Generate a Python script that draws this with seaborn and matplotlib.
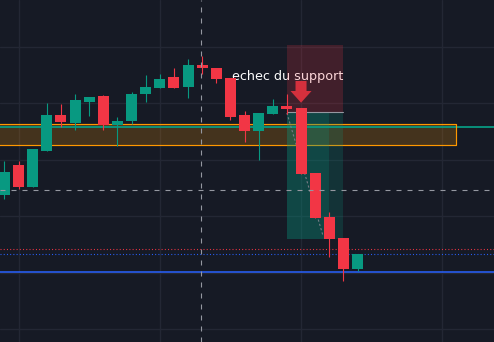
import numpy as np
import pandas as pd
import matplotlib
matplotlib.use("Agg")
import matplotlib.pyplot as plt
import seaborn as sns

# ---- data (prices) ----
opens  = [113.8, 119.1, 115.2, 121.6, 127.9, 126.5, 130.2, 131.3, 126.2, 126.9,
          131.7, 132.7, 134.7, 132.9, 136.8, 136.3, 134.5, 127.9, 125.1, 128.1,
          129.5, 129.2, 117.7, 109.9, 106.1, 100.6]
highs  = [119.8, 119.8, 121.9, 130.1, 129.9, 131.7, 131.1, 131.5, 127.6, 132.0,
          135.0, 135.2, 136.3, 137.9, 138.4, 136.3, 134.5, 128.7, 128.3, 130.8,
          131.7, 129.2, 117.7, 110.7, 106.1, 103.3]
lows   = [113.1, 114.8, 115.2, 121.6, 125.8, 125.3, 127.8, 125.3, 122.4, 126.3,
          130.2, 132.7, 132.7, 131.0, 135.2, 133.6, 127.1, 123.2, 120.0, 128.1,
          128.1, 117.5, 109.7, 102.8, 98.5, 100.3]
closes = [117.8, 115.2, 121.9, 127.9, 126.7, 130.6, 131.1, 126.2, 126.9, 131.7,
          132.9, 134.3, 132.7, 136.8, 136.3, 134.3, 127.6, 125.1, 128.3, 129.5,
          129.0, 117.5, 109.7, 106.0, 100.6, 103.3]

support_top = 126.35
support_bottom = 122.6
support_end = 32
teal_level = 125.9
cross_price = 114.6
cross_bar = 13.94
red_dotted_level = 104.13
blue_dotted_level = 103.24
blue_level = 100.05

pos_start, pos_mid, pos_end = 20, 23, 24
pos_stop, pos_entry, pos_target = 140.4, 128.42, 105.96
path_x = [20.0, 22.56]
path_y = [128.3, 106.5]

arrow_bar, arrow_top, arrow_tip = 21, 133.97, 130.12
label_text = "echec du support"
label_x, label_y = 16.1, 134.15

df = pd.DataFrame({"open": opens, "high": highs, "low": lows, "close": closes})
df["x"] = np.arange(len(df))
df["up"] = df["close"] >= df["open"]

BG = "#161A25"
GRID = "#232734"
GREEN = "#089981"
RED = "#F23645"
ORANGE = "#FF9800"
BLUE = "#2962FF"
CROSS = "#9598A1"

sns.set_theme(style="dark", rc={"axes.facecolor": BG, "figure.facecolor": BG})
plt.rcParams["font.family"] = ["DejaVu Sans"]

fig = plt.figure(figsize=(4.94, 3.42), dpi=100)
ax = fig.add_axes([0, 0, 1, 1])
ax.set_facecolor(BG)
for s in ax.spines.values():
    s.set_visible(False)

ax.set_xlim(-0.31, 34.66)
ax.set_ylim(87.7, 148.33)
ax.set_xticks([1, 11, 21, 31])
ax.set_yticks([90, 100, 110, 120, 130, 140])
ax.tick_params(length=0, labelbottom=False, labelleft=False)
ax.grid(True, color=GRID, lw=1.0, zorder=0)
ax.set_axisbelow(True)

# support zone
ax.fill_between([-1, support_end], support_bottom, support_top,
                color=ORANGE, alpha=0.2, lw=0, zorder=1)
ax.plot([-1, support_end, support_end, -1], [support_top, support_top, support_bottom, support_bottom],
        color=ORANGE, lw=0.85, zorder=2.2)
ax.axhline(teal_level, color=GREEN, lw=1.3, zorder=2.1)

# levels
ax.axhline(red_dotted_level, color=RED, lw=0.8, ls=(0, (0.9, 2.0)), zorder=2)
ax.axhline(blue_dotted_level, color=BLUE, lw=0.8, ls=(0, (0.9, 2.0)), zorder=2)
ax.axhline(blue_level, color=BLUE, lw=1.1, zorder=2)

# text (under position box)
ax.text(label_x, label_y, label_text, color="white", fontsize=9.2,
        ha="left", va="baseline", zorder=2.5)

# position tool
ax.fill_between([pos_start, pos_end], pos_entry, pos_stop, color=RED, alpha=0.2, lw=0, zorder=3)
ax.fill_between([pos_start, pos_end], pos_target, pos_entry, color=GREEN, alpha=0.2, lw=0, zorder=3)
ax.fill_between([pos_start, pos_mid], pos_target, pos_entry, color=GREEN, alpha=0.2, lw=0, zorder=3)
ax.plot([pos_start, pos_end], [pos_entry, pos_entry], color=CROSS, lw=0.8, zorder=3.1)
ax.plot(path_x, path_y, color="#787B86", lw=0.8, ls=(0, (2, 2)), zorder=3.2)

# candles
colors = [GREEN if u else RED for u in df["up"]]
ax.vlines(df["x"], df["low"], df["high"], colors=colors, lw=0.8, zorder=3.9)
ax.bar(df["x"], df["close"] - df["open"], bottom=df["open"], width=0.78,
       color=colors, lw=0, zorder=4)

# arrow
ax.arrow(arrow_bar, arrow_top, 0, arrow_tip - arrow_top, width=0.78, head_width=1.49,
         head_length=2.08, length_includes_head=True, color="#D5303D", lw=0, zorder=5)

# crosshair
ax.axhline(cross_price, color=CROSS, lw=0.8, ls=(0, (4.5, 5.4)), zorder=6)
ax.axvline(cross_bar, color=CROSS, lw=0.8, ls=(0, (4.5, 5.4)), zorder=6)

fig.savefig("out.png", dpi=100, facecolor=BG)
